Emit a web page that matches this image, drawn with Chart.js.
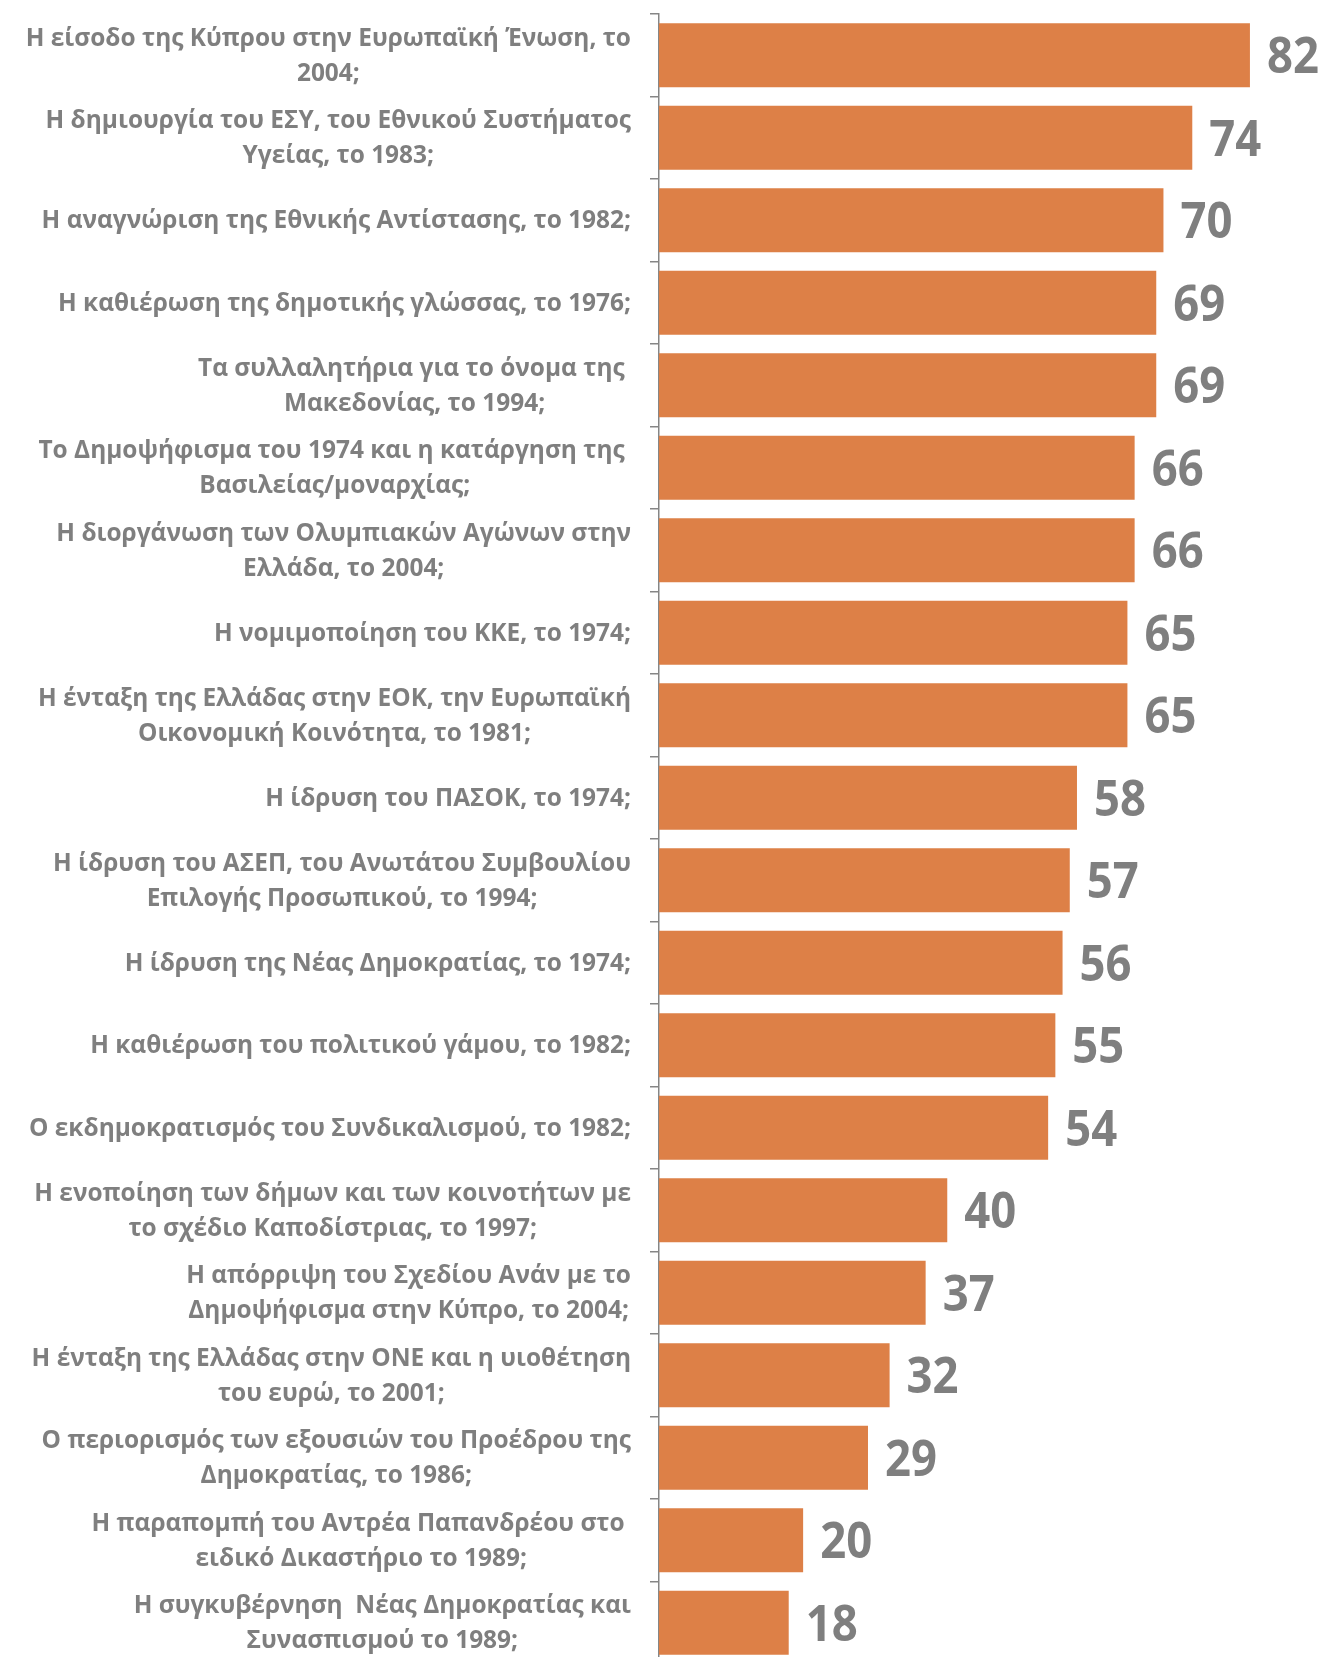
<!DOCTYPE html>
<html>
<head>
<meta charset="utf-8">
<script src="https://cdn.jsdelivr.net/npm/chart.js@4.4.1/dist/chart.umd.min.js"></script>
<style>
  html, body { margin: 0; padding: 0; background: #ffffff; overflow: hidden; }
  #wrap { width: 1322px; height: 1664px; }
</style>
</head>
<body>
<div id="wrap"><canvas id="c" width="1322" height="1664"></canvas></div>
<script>
const categories = [
  ["Η είσοδο της Κύπρου στην Ευρωπαϊκή Ένωση, το", "2004;"],
  ["Η δημιουργία του ΕΣΥ, του Εθνικού Συστήματος", "Υγείας, το 1983;"],
  ["Η αναγνώριση της Εθνικής Αντίστασης, το 1982;"],
  ["Η καθιέρωση της δημοτικής γλώσσας, το 1976;"],
  ["Τα συλλαλητήρια για το όνομα της ", "Μακεδονίας, το 1994;"],
  ["Το Δημοψήφισμα του 1974 και η κατάργηση της ", "Βασιλείας/μοναρχίας;"],
  ["Η διοργάνωση των Ολυμπιακών Αγώνων στην", "Ελλάδα, το 2004;"],
  ["Η νομιμοποίηση του ΚΚΕ, το 1974;"],
  ["Η ένταξη της Ελλάδας στην ΕΟΚ, την Ευρωπαϊκή", "Οικονομική Κοινότητα, το 1981;"],
  ["Η ίδρυση του ΠΑΣΟΚ, το 1974;"],
  ["Η ίδρυση του ΑΣΕΠ, του Ανωτάτου Συμβουλίου", "Επιλογής Προσωπικού, το 1994;"],
  ["Η ίδρυση της Νέας Δημοκρατίας, το 1974;"],
  ["Η καθιέρωση του πολιτικού γάμου, το 1982;"],
  ["Ο εκδημοκρατισμός του Συνδικαλισμού, το 1982;"],
  ["Η ενοποίηση των δήμων και των κοινοτήτων με", "το σχέδιο Καποδίστριας, το 1997;"],
  ["Η απόρριψη του Σχεδίου Ανάν με το", "Δημοψήφισμα στην Κύπρο, το 2004;"],
  ["Η ένταξη της Ελλάδας στην ΟΝΕ και η υιοθέτηση", "του ευρώ, το 2001;"],
  ["Ο περιορισμός των εξουσιών του Προέδρου της", "Δημοκρατίας, το 1986;"],
  ["Η παραπομπή του Αντρέα Παπανδρέου στο ", "ειδικό Δικαστήριο το 1989;"],
  ["Η συγκυβέρνηση  Νέας Δημοκρατίας και", "Συνασπισμού το 1989;"]
];
const values = [82, 74, 70, 69, 69, 66, 66, 65, 65, 58, 57, 56, 55, 54, 40, 37, 32, 29, 20, 18];

const xMin = 0;
const xMax = 92;

const BAR_COLOR = '#DD8047';
const TEXT_COLOR = '#7F7F7F';
const AXIS_COLOR = '#868686';
const LABEL_FONT = 'bold 25px "Open Sans"';
const VALUE_FONT = 'bold 50px "Open Sans"';

const textPlugin = {
  id: 'textPlugin',
  afterDraw(chart) {
    const ctx = chart.ctx;
    const yScale = chart.scales.y;
    ctx.save();
    ctx.fillStyle = TEXT_COLOR;

    // category labels: block right-aligned, lines centered within block
    ctx.font = LABEL_FONT;
    const refW = ctx.measureText(categories[13][0]).width;
    const k = 602 / refW;
    const right = chart.chartArea.left - 28;
    categories.forEach((lines, i) => {
      const cy = yScale.getPixelForValue(i);
      const W = Math.max(...lines.map(l => ctx.measureText(l).width));
      const cx = right - k * W / 2;
      lines.forEach((line, j) => {
        const by = cy + (j - (lines.length - 1) / 2) * 35 + 8;
        ctx.save();
        ctx.translate(cx, by);
        ctx.scale(k, 1);
        ctx.textAlign = 'center';
        ctx.textBaseline = 'alphabetic';
        ctx.fillText(line, 0, 0);
        ctx.restore();
      });
    });

    // value labels
    ctx.font = VALUE_FONT;
    const vk = 52 / ctx.measureText('70').width;
    const meta = chart.getDatasetMeta(0);
    meta.data.forEach((bar, i) => {
      ctx.save();
      ctx.translate(bar.x + 17, bar.y + 18);
      ctx.scale(vk, 1);
      ctx.textAlign = 'left';
      ctx.textBaseline = 'alphabetic';
      ctx.fillText(String(values[i]), 0, 0);
      ctx.restore();
    });
    ctx.restore();
  }
};

new Chart(document.getElementById('c'), {
  type: 'bar',
  data: {
    labels: categories,
    datasets: [{
      data: values,
      backgroundColor: BAR_COLOR,
      borderWidth: 0,
      barPercentage: 0.776,
      categoryPercentage: 1.0
    }]
  },
  options: {
    indexAxis: 'y',
    responsive: false,
    animation: false,
    devicePixelRatio: 1,
    layout: { padding: { top: 14, left: 0, right: 0, bottom: 0 } },
    plugins: { legend: { display: false }, tooltip: { enabled: false } },
    scales: {
      x: { display: false, min: xMin, max: xMax },
      y: {
        type: 'category',
        offset: true,
        ticks: { display: false },
        grid: {
          offset: true,
          drawOnChartArea: false,
          drawTicks: true,
          tickLength: 9,
          color: AXIS_COLOR,
          lineWidth: 1.5
        },
        border: { display: true, color: AXIS_COLOR, width: 1.5 },
        afterFit(scale) { scale.width = 659; }
      }
    }
  },
  plugins: [textPlugin]
});
</script>
</body>
</html>
